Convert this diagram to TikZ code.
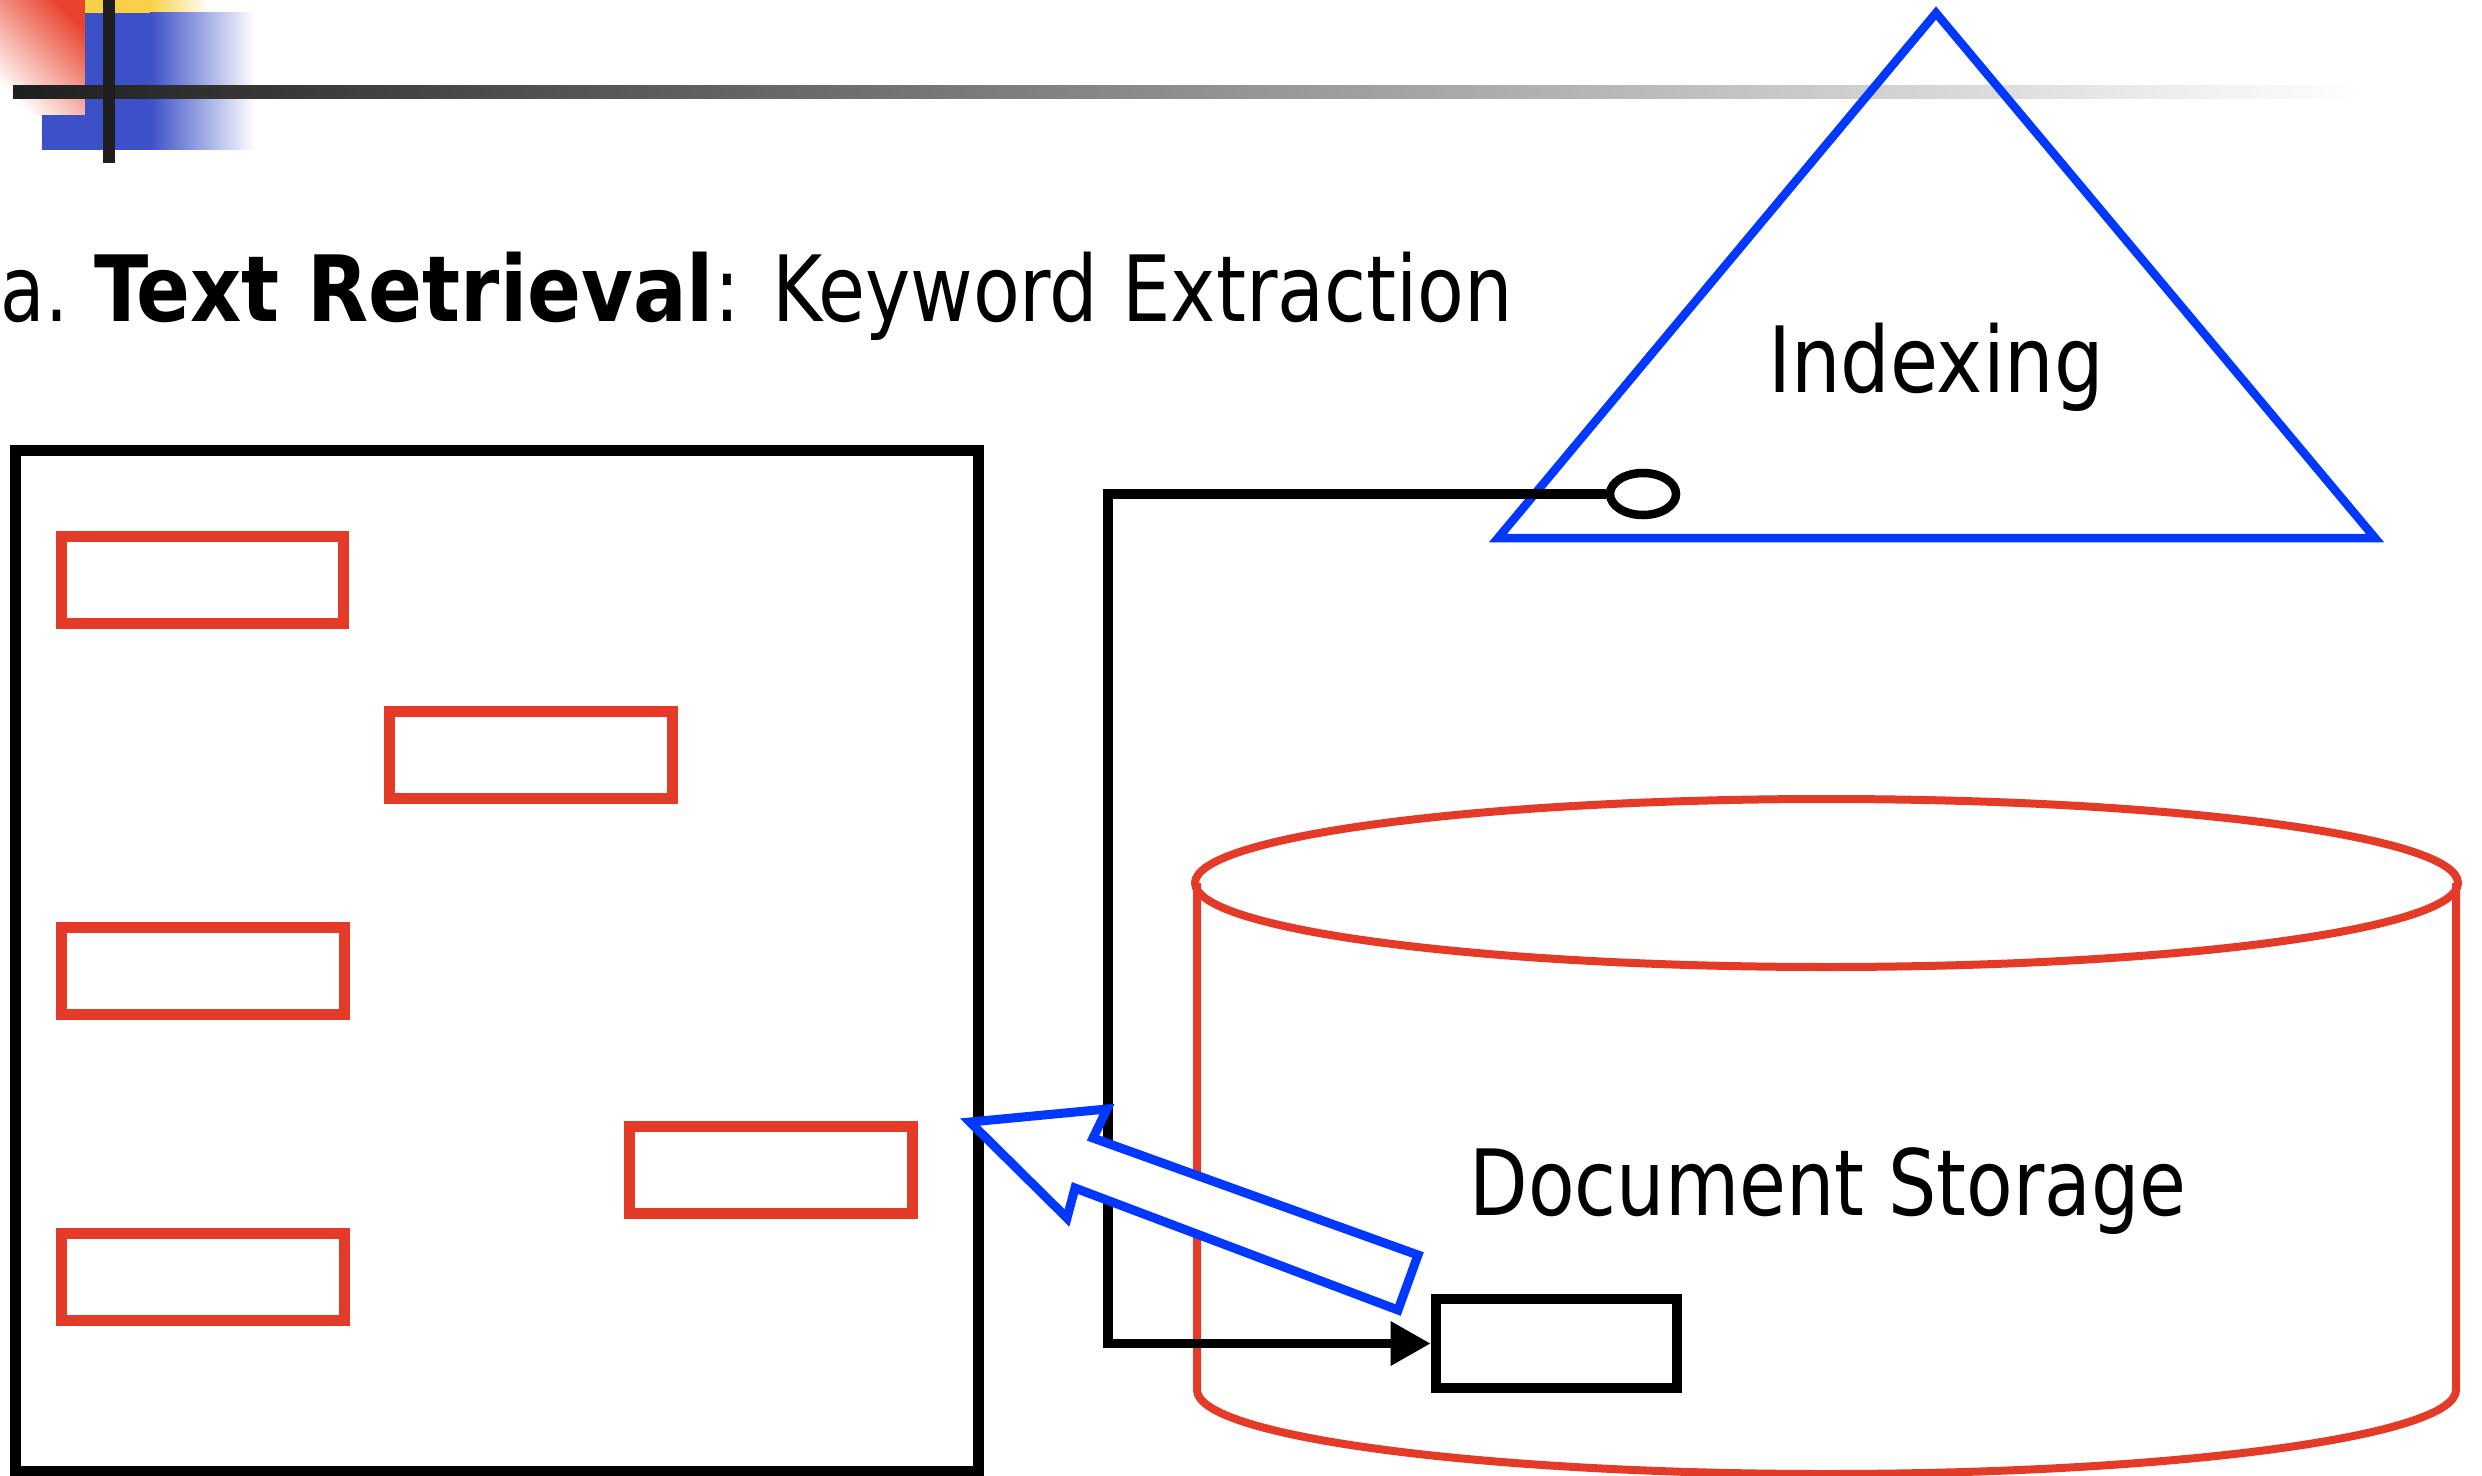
\documentclass[tikz,border=0pt]{standalone}
\usepackage{fontspec}
\setmainfont{DejaVu Sans Condensed}
\usetikzlibrary{arrows.meta,shapes.geometric}
\definecolor{decored}{RGB}{232,67,47}
\definecolor{decoyellow}{RGB}{248,208,72}
\definecolor{decoblue}{RGB}{60,80,200}
\definecolor{linkblue}{RGB}{0,56,255}
\definecolor{storered}{RGB}{228,58,40}
\tikzset{
  lbl/.style={font=\fontsize{26}{30}\selectfont, inner sep=0pt},
  termbox/.style={draw=storered, line width=0.11cm, minimum width=2.82cm, minimum height=0.87cm, inner sep=0pt},
  docpage/.style={draw=black, line width=0.11cm, inner sep=0pt},
  conn/.style={draw=black, line width=0.095cm},
  storebox/.style={draw=black, line width=0.105cm, fill=white, minimum width=2.41cm, minimum height=0.89cm, inner sep=0pt},
  handle/.style={draw=black, line width=0.085cm, fill=white, ellipse, minimum width=0.66cm, minimum height=0.42cm, inner sep=0pt},
}
\begin{document}
\begin{tikzpicture}[x=0.01cm, y=-0.01cm]
\useasboundingbox (0,0) rectangle (2482,1476);

% corner ornament and header rule
\shade[top color=decored, bottom color=white, shading angle=-45] (0,0) rectangle (85,115);
\fill[decoyellow] (85,0) rectangle (150,13);
\shade[left color=decoyellow, right color=white] (150,0) rectangle (210,13);
\fill[decoblue] (85,13) rectangle (150,150);
\fill[decoblue] (42,115) rectangle (85,150);
\shade[left color=decoblue, right color=white] (150,13) rectangle (255,150);
\shade[left color=black!88, right color=white] (13,86) rectangle (2360,99);
\fill[black!88] (103,0) rectangle (115,163);

% title
\node[lbl, anchor=base west] (title) at (0,321)
  {\scalebox{0.88}[1]{a.} \scalebox{0.967}[1]{\textbf{Text Retrieval}}\scalebox{0.93}[1]{: Keyword Extraction}};

% document with highlighted keywords
\node[docpage, minimum width=9.62cm, minimum height=10.2cm] (doc) at (497,961) {};
\node[termbox] (k1) at (202.5,580) {};
\node[termbox] (k2) at (531,755) {};
\node[termbox] (k3) at (203,971) {};
\node[termbox] (k4) at (771,1170) {};
\node[termbox] (k5) at (203,1277) {};

% indexing triangle
\draw[linkblue, line width=0.085cm, line join=miter] (1936,13) -- (2375,538) -- (1498,538) -- cycle;
\node[lbl, anchor=base] (idx) at (1936,392) {\scalebox{0.95}[1]{Indexing}};

% document storage cylinder
\draw[storered, line width=0.08cm] (1826.5,883) ellipse [x radius=631.5, y radius=84];
\draw[storered, line width=0.08cm] (1197,883) -- (1197,1390) arc[start angle=180, end angle=360, x radius=629.5, y radius=-84] -- (2456,883);
\node[lbl, anchor=base] (stlabel) at (1828,1215) {\scalebox{0.926}[1]{Document Storage}};
\node[storebox] (store) at (1556.5,1343.5) {};

% link from the index to a stored document
\node[handle] (hook) at (1643,494) {};
\coordinate (bend) at (1108,494);
\draw[conn, -{Triangle[length=0.4cm, width=0.42cm]}] (hook.west) -- (bend) |- (store.west);

% retrieval arrow back to the document
\draw[linkblue, line width=0.09cm, line join=miter, fill=white]
  (970,1122) -- (1107,1109) -- (1093,1138) -- (1418,1255) -- (1398,1310) -- (1075,1188) -- (1067,1218) -- cycle;
\end{tikzpicture}
\end{document}
